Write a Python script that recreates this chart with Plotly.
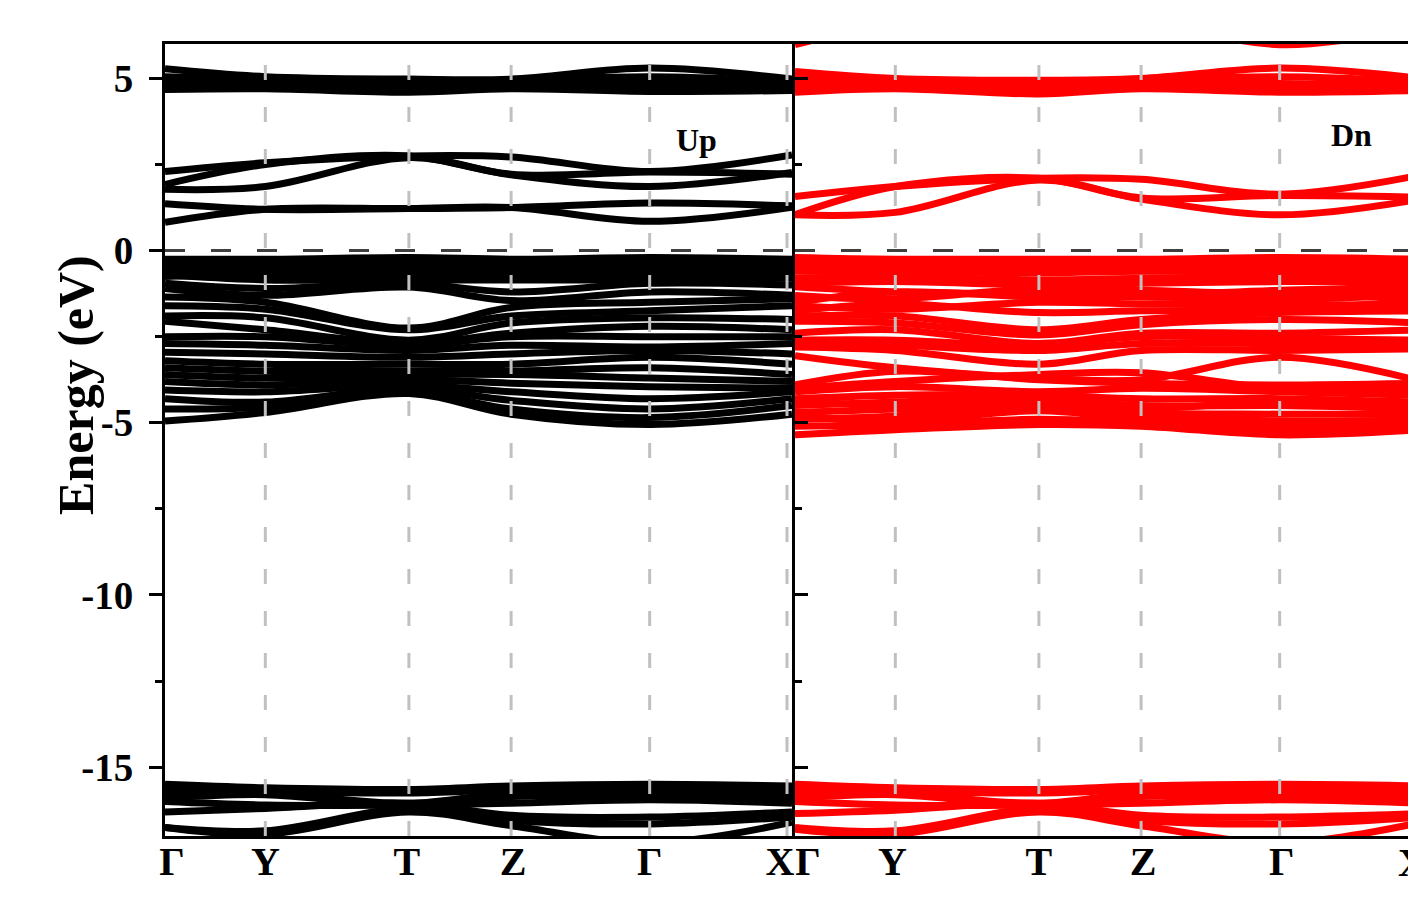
import plotly.graph_objects as go

# High-symmetry path (normalised k distance)
kpoints = ["Γ", "Y", "T", "Z", "Γ", "X"]
kpos = [0.0, 0.16, 0.389, 0.552, 0.773, 1.0]

# ---------------- Spin up bands (energies in eV at Γ, Y, T, Z, Γ, X) -------------
up_upper = [
    [5.28, 5.05, 4.98, 4.98, 5.3, 4.98],
    [5.05, 4.98, 4.88, 4.95, 5.05, 4.92],
    [4.9, 4.88, 4.78, 4.86, 4.88, 4.82],
    [4.78, 4.78, 4.68, 4.78, 4.75, 4.72],
    [4.68, 4.7, 4.6, 4.7, 4.62, 4.65],
]
up_cond = [
    [2.3, 2.55, 2.75, 2.72, 2.3, 2.78],
    [1.92, 2.5, 2.75, 2.22, 2.28, 2.22],
    [1.78, 1.86, 2.7, 2.2, 1.86, 2.27],
    [1.36, 1.2, 1.22, 1.25, 1.38, 1.3],
    [0.82, 1.2, 1.22, 1.25, 0.85, 1.26],
]
up_val = [
    [-0.25, -0.25, -0.2, -0.25, -0.2, -0.25],
    [-0.35, -0.35, -0.3, -0.35, -0.3, -0.35],
    [-0.45, -0.5, -0.45, -0.45, -0.45, -0.45],
    [-0.6, -0.6, -0.6, -0.55, -0.6, -0.55],
    [-0.75, -0.7, -0.75, -0.7, -0.7, -0.7],
    [-0.7, -0.85, -0.85, -0.85, -0.85, -0.8],
    [-0.95, -1.1, -0.95, -1.2, -0.95, -1.0],
    [-1.1, -1.3, -1.06, -1.45, -1.2, -1.3],
    [-1.35, -1.5, -2.25, -1.65, -1.5, -1.4],
    [-1.6, -1.7, -2.3, -1.9, -1.75, -1.6],
    [-1.9, -1.95, -2.6, -2.1, -1.95, -2.0],
    [-2.05, -2.3, -2.7, -2.4, -2.2, -2.3],
    [-2.5, -2.5, -2.75, -2.5, -2.5, -2.5],
    [-2.7, -2.75, -2.9, -2.75, -2.8, -2.7],
    [-2.95, -3.0, -3.1, -3.0, -2.9, -3.0],
    [-3.2, -3.3, -3.3, -3.3, -3.1, -3.3],
    [-3.4, -3.5, -3.5, -3.5, -3.4, -3.6],
    [-3.6, -3.7, -3.6, -3.6, -3.7, -3.8],
    [-3.8, -3.9, -3.75, -3.85, -3.95, -4.0],
    [-4.05, -4.1, -3.9, -4.1, -4.3, -4.1],
    [-4.3, -4.4, -4.0, -4.35, -4.6, -4.3],
    [-4.6, -4.55, -4.1, -4.6, -4.85, -4.5],
    [-4.95, -4.7, -4.15, -4.75, -5.05, -4.75],
]
up_low = [
    [-15.5, -15.6, -15.65, -15.55, -15.5, -15.55],
    [-15.6, -15.7, -15.75, -15.65, -15.6, -15.65],
    [-15.75, -15.75, -16.05, -15.75, -15.7, -15.75],
    [-15.9, -15.8, -16.1, -15.85, -15.85, -15.85],
    [-16.0, -16.1, -16.1, -16.05, -15.95, -16.05],
    [-16.3, -16.2, -16.05, -16.4, -16.45, -16.3],
    [-16.75, -16.85, -16.2, -16.55, -16.65, -16.45],
    [-16.75, -16.95, -16.3, -16.7, -17.2, -16.6],
]

# ---------------- Spin down bands -------------
dn_upper = [
    [5.98, 6.6, 6.9, 6.7, 5.98, 6.5],
    [5.2, 5.0, 4.95, 5.0, 5.3, 5.0],
    [5.0, 4.95, 4.85, 4.95, 5.05, 4.9],
    [4.85, 4.85, 4.75, 4.85, 4.85, 4.8],
    [4.75, 4.75, 4.65, 4.8, 4.7, 4.7],
    [4.6, 4.7, 4.55, 4.7, 4.6, 4.65],
]
dn_cond = [
    [1.57, 1.86, 2.1, 2.07, 1.64, 2.2],
    [1.04, 1.86, 2.1, 1.53, 1.6, 1.55],
    [1.04, 1.11, 2.05, 1.5, 1.04, 1.5],
]
dn_val = [
    [-0.2, -0.25, -0.25, -0.25, -0.2, -0.25],
    [-0.3, -0.35, -0.35, -0.35, -0.3, -0.35],
    [-0.45, -0.45, -0.5, -0.45, -0.45, -0.45],
    [-0.6, -0.6, -0.65, -0.6, -0.6, -0.6],
    [-0.8, -0.75, -0.85, -0.8, -0.75, -0.75],
    [-0.95, -0.9, -1.0, -0.95, -0.9, -0.9],
    [-1.05, -1.2, -1.25, -1.3, -1.15, -1.05],
    [-1.3, -1.4, -1.1, -1.15, -1.25, -1.2],
    [-1.5, -1.2, -1.35, -1.35, -1.4, -1.3],
    [-1.6, -1.7, -1.5, -1.55, -1.55, -1.6],
    [-1.75, -1.55, -1.8, -1.75, -1.7, -1.45],
    [-1.9, -1.9, -2.3, -2.0, -1.8, -1.75],
    [-2.05, -2.1, -2.45, -2.15, -2.0, -2.1],
    [-2.4, -2.3, -2.7, -2.4, -2.4, -2.3],
    [-2.6, -2.6, -2.75, -2.5, -2.55, -2.6],
    [-2.7, -2.75, -2.9, -2.7, -2.7, -2.7],
    [-2.8, -2.9, -3.3, -2.9, -2.9, -2.85],
    [-3.05, -3.4, -3.7, -3.75, -3.1, -3.8],
    [-3.9, -3.5, -3.75, -3.85, -3.9, -3.85],
    [-4.0, -3.8, -3.6, -3.55, -4.0, -4.0],
    [-4.1, -3.95, -4.1, -4.0, -4.1, -4.2],
    [-4.3, -4.2, -4.2, -4.3, -4.3, -4.4],
    [-4.4, -4.5, -4.6, -4.6, -4.4, -4.5],
    [-4.5, -4.4, -4.3, -4.5, -4.5, -4.6],
    [-4.7, -4.6, -4.45, -4.7, -4.75, -4.75],
    [-4.9, -4.8, -4.5, -4.75, -4.95, -4.9],
    [-4.8, -4.95, -4.65, -4.9, -5.1, -5.0],
    [-5.1, -5.05, -4.9, -5.0, -5.2, -5.1],
    [-5.35, -5.2, -5.05, -5.1, -5.35, -5.2],
]
dn_low = [
    [-15.5, -15.6, -15.65, -15.55, -15.5, -15.55],
    [-15.6, -15.7, -15.75, -15.65, -15.6, -15.65],
    [-15.75, -15.75, -16.05, -15.75, -15.7, -15.75],
    [-15.9, -15.8, -16.1, -15.85, -15.85, -15.85],
    [-16.0, -16.1, -16.1, -16.05, -15.95, -16.05],
    [-16.35, -16.25, -16.05, -16.4, -16.45, -16.35],
    [-16.75, -16.85, -16.2, -16.55, -16.65, -16.45],
    [-16.8, -16.95, -16.3, -16.7, -17.2, -16.6],
]

ytick_vals = [5, 0, -5, -10, -15]
ytick_text = ["5", "0", "-5", "-10", "-15"]
yminor_vals = [2.5, -2.5, -7.5, -12.5]

W, H = 1408, 897
FONT = "Liberation Serif"
PX_PER_K = 792 - 165  # pixel width of one full path

fig = go.Figure()

def add_bands(groups, color, xa, ya):
    for g in groups:
        for band in g:
            fig.add_trace(go.Scatter(
                x=kpos, y=band, mode="lines",
                line=dict(color=color, width=7, shape="spline", smoothing=1.0),
                xaxis=xa, yaxis=ya, showlegend=False, hoverinfo="skip"))

add_bands([up_upper, up_cond, up_val, up_low], "#000000", "x", "y")
add_bands([dn_upper, dn_cond, dn_val, dn_low], "#ff0000", "x2", "y2")

x1_dom = [165 / W, 792 / W]
x2_dom = [795 / W, 1.0]
x2_max = (W - 795) / PX_PER_K

# tick-label anchor positions: edge labels nudged inward as in the original
label_shift_px = [7, 0, -2, 2, 0, -12]
x1_label_pos = [k + s / PX_PER_K for k, s in zip(kpos, label_shift_px)]
label_shift_px2 = [13, -3, 0, 2, 2]
x2_label_pos = [k + s / PX_PER_K for k, s in zip(kpos[:5], label_shift_px2)]

tickfont_x = dict(family=FONT, size=40, color="black", weight="bold")
tickfont_y = dict(family=FONT, size=39, color="black", weight="bold")

fig.update_layout(
    width=W, height=H,
    margin=dict(l=0, r=0, t=44, b=61, autoexpand=False),
    paper_bgcolor="white", plot_bgcolor="white",
    xaxis=dict(domain=x1_dom, range=[0, 1], tickmode="array", tickvals=x1_label_pos,
               ticktext=kpoints, ticks="", showgrid=False, zeroline=False,
               showline=True, linewidth=3, linecolor="black", mirror=True,
               tickfont=tickfont_x, ticklabelstandoff=-12, anchor="y"),
    yaxis=dict(domain=[0, 1], range=[-17, 6], tickmode="array", tickvals=ytick_vals,
               ticktext=ytick_text, ticks="outside", ticklen=13, tickwidth=3,
               tickcolor="black", showgrid=False, zeroline=False, showline=True,
               linewidth=3, linecolor="black", mirror="ticks", tickfont=tickfont_y,
               ticklabelstandoff=8,
               minor=dict(tickvals=yminor_vals, ticks="outside", ticklen=7,
                          tickwidth=3, tickcolor="black"),
               anchor="x"),
    xaxis2=dict(domain=x2_dom, range=[0, x2_max], tickmode="array", tickvals=x2_label_pos,
                ticktext=kpoints[:5], ticks="", showgrid=False, zeroline=False,
                showline=True, linewidth=3, linecolor="black", mirror=True,
                tickfont=tickfont_x, ticklabelstandoff=-12, anchor="y2"),
    yaxis2=dict(domain=[0, 1], range=[-17, 6], tickmode="array", tickvals=ytick_vals,
                showticklabels=False, ticks="inside", ticklen=13, tickwidth=3,
                tickcolor="black", showgrid=False, zeroline=False, showline=True,
                linewidth=3, linecolor="black", mirror=False,
                minor=dict(tickvals=yminor_vals, ticks="inside", ticklen=7,
                           tickwidth=3, tickcolor="black"),
                anchor="x2"),
)

shapes = []
for k in kpos[1:]:
    kx = k - 5 / PX_PER_K if k == 1.0 else k
    shapes.append(dict(type="line", xref="x", yref="y", x0=kx, x1=kx, y0=-17, y1=6,
                       line=dict(color="#c0c0c0", width=3, dash="15px,27px"),
                       layer="above"))
for k in kpos[1:5]:
    shapes.append(dict(type="line", xref="x2", yref="y2", x0=k, x1=k, y0=-17, y1=6,
                       line=dict(color="#c0c0c0", width=3, dash="15px,27px"),
                       layer="above"))
shapes.append(dict(type="line", xref="x", yref="y", x0=0, x1=1, y0=0, y1=0,
                   line=dict(color="#404040", width=3, dash="20px,26px"), layer="above"))
shapes.append(dict(type="line", xref="x2", yref="y2", x0=0, x1=x2_max, y0=0, y1=0,
                   line=dict(color="#404040", width=3, dash="20px,26px"), layer="above"))
fig.update_layout(shapes=shapes)

annotations = [
    dict(text="<b>Energy (eV)</b>", xref="paper", yref="y", x=76 / W, y=-3.9,
         textangle=-90, showarrow=False, font=dict(family=FONT, size=50, color="black"),
         xanchor="center", yanchor="middle"),
    dict(text="<b>Up</b>", xref="x", yref="y", x=0.848, y=3.2, showarrow=False,
         font=dict(family=FONT, size=32, color="black")),
    dict(text="<b>Dn</b>", xref="x2", yref="y2", x=0.888, y=3.35, showarrow=False,
         font=dict(family=FONT, size=32, color="black")),
    dict(text="<b>X</b>", xref="paper", yref="paper", x=(795 + PX_PER_K - 10) / W, y=-26 / 792,
         showarrow=False, font=dict(family=FONT, size=40, color="black"),
         xanchor="center", yanchor="middle"),
]
fig.update_layout(annotations=annotations)

fig.write_html("out.html", config={"displayModeBar": False},
               post_script="document.body.style.margin='0';document.body.style.overflow='hidden';")
